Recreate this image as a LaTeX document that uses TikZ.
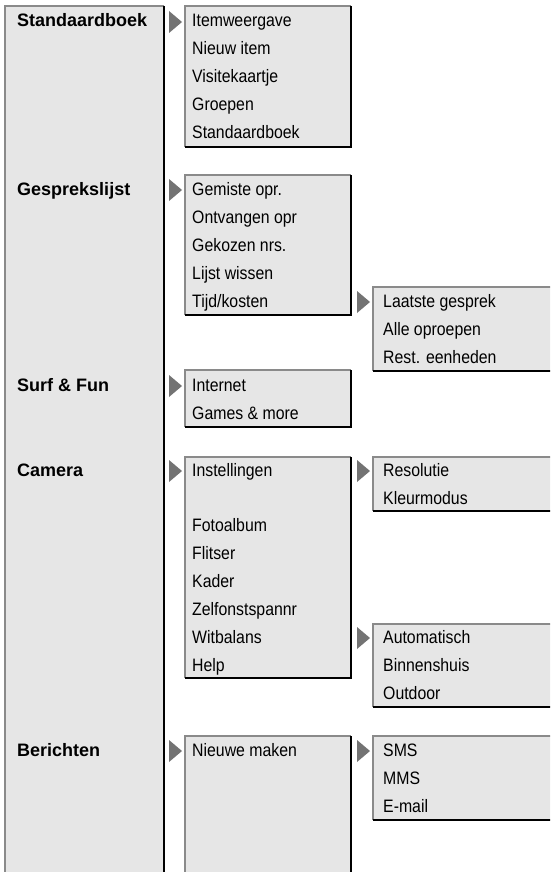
\documentclass[tikz,border=0pt]{standalone}
\usepackage{fontspec}
\setmainfont{Liberation Sans}
\newfontfamily\itemfont[FakeStretch=0.88]{Liberation Sans}
\definecolor{boxgray}{HTML}{E6E6E6}
\definecolor{edgegray}{HTML}{8A8A8A}
\definecolor{arrowgray}{HTML}{737373}
\tikzset{
  mainlabel/.style={anchor=base west, inner sep=0pt, font=\fontsize{18}{20}\selectfont\bfseries},
  itemlabel/.style={anchor=base west, inner sep=0pt, font=\itemfont\fontsize{18}{20}\selectfont},
  boxfill/.style={fill=boxgray},
  lightedge/.style={draw=edgegray, line width=1.3pt},
  darkedge/.style={draw=black, line width=2.6pt},
  pointerfill/.style={fill=arrowgray},
}
\newcommand\menupanel[4]{%
  \fill[boxfill] (#1,#2) rectangle (#3,#4);
  \draw[lightedge] (#1,#4) -- (#1,#2) -- (#3,#2);
  \draw[darkedge] (#3,#2) -- (#3,#4) -- (#1,#4);
}
\newcommand\menupointer[2]{%
  \fill[pointerfill] (#1,{#2-11}) -- ({#1+13},#2) -- (#1,{#2+11}) -- cycle;
}
\begin{document}
\begin{tikzpicture}[x=1pt,y=-1pt]
\useasboundingbox (0,0) rectangle (550,872);
\clip (0,0) rectangle (550,872);
\fill[white] (0,0) rectangle (550,872);

% main column
\menupanel{5}{6}{164}{900}
\node[mainlabel] (m1) at (17,27) {Standaardboek};
\node[mainlabel] (m2) at (17,195) {Gesprekslijst};
\node[mainlabel] (m3) at (17,391) {Surf \& Fun};
\node[mainlabel] (m4) at (17,476) {Camera};
\node[mainlabel] (m5) at (17,756) {Berichten};

% level 2 panels
\menupanel{185}{6}{351}{147}
\menupanel{185}{175}{351}{315}
\menupanel{185}{370}{351}{427}
\menupanel{185}{457}{351}{678}
\menupanel{185}{736}{351}{900}

% level 3 panels
\menupanel{373}{287}{570}{371}
\menupanel{373}{457}{570}{511}
\menupanel{373}{624}{570}{707}
\menupanel{373}{736}{570}{820}

% pointers
\menupointer{169}{22}
\menupointer{169}{190}
\menupointer{169}{386}
\menupointer{169}{471}
\menupointer{169}{751}
\menupointer{357}{302}
\menupointer{357}{471}
\menupointer{357}{638}
\menupointer{357}{751}

% Standaardboek items
\node[itemlabel] (a1) at (192,27) {Itemweergave};
\node[itemlabel] (a2) at (192,55) {Nieuw item};
\node[itemlabel] (a3) at (192,83) {Visitekaartje};
\node[itemlabel] (a4) at (192,111) {Groepen};
\node[itemlabel] (a5) at (192,139) {Standaardboek};

% Gesprekslijst items
\node[itemlabel] (b1) at (192,195) {Gemiste opr.};
\node[itemlabel] (b2) at (192,223) {Ontvangen opr};
\node[itemlabel] (b3) at (192,251) {Gekozen nrs.};
\node[itemlabel] (b4) at (192,279) {Lijst wissen};
\node[itemlabel] (b5) at (192,307) {Tijd/kosten};
\node[itemlabel] (b51) at (383,307) {Laatste gesprek};
\node[itemlabel] (b52) at (383,335) {Alle oproepen};
\node[itemlabel] (b53) at (383,363) {Rest. eenheden};

% Surf & Fun items
\node[itemlabel] (c1) at (192,391) {Internet};
\node[itemlabel] (c2) at (192,419) {Games \& more};

% Camera items
\node[itemlabel] (d1) at (192,476) {Instellingen};
\node[itemlabel] (d11) at (383,476) {Resolutie};
\node[itemlabel] (d12) at (383,504) {Kleurmodus};
\node[itemlabel] (d2) at (192,531) {Fotoalbum};
\node[itemlabel] (d3) at (192,559) {Flitser};
\node[itemlabel] (d4) at (192,587) {Kader};
\node[itemlabel] (d5) at (192,615) {Zelfonstspannr};
\node[itemlabel] (d6) at (192,643) {Witbalans};
\node[itemlabel] (d7) at (192,671) {Help};
\node[itemlabel] (d61) at (383,643) {Automatisch};
\node[itemlabel] (d62) at (383,671) {Binnenshuis};
\node[itemlabel] (d63) at (383,699) {Outdoor};

% Berichten items
\node[itemlabel] (e1) at (192,756) {Nieuwe maken};
\node[itemlabel] (e11) at (383,756) {SMS};
\node[itemlabel] (e12) at (383,784) {MMS};
\node[itemlabel] (e13) at (383,812) {E-mail};
\end{tikzpicture}
\end{document}
